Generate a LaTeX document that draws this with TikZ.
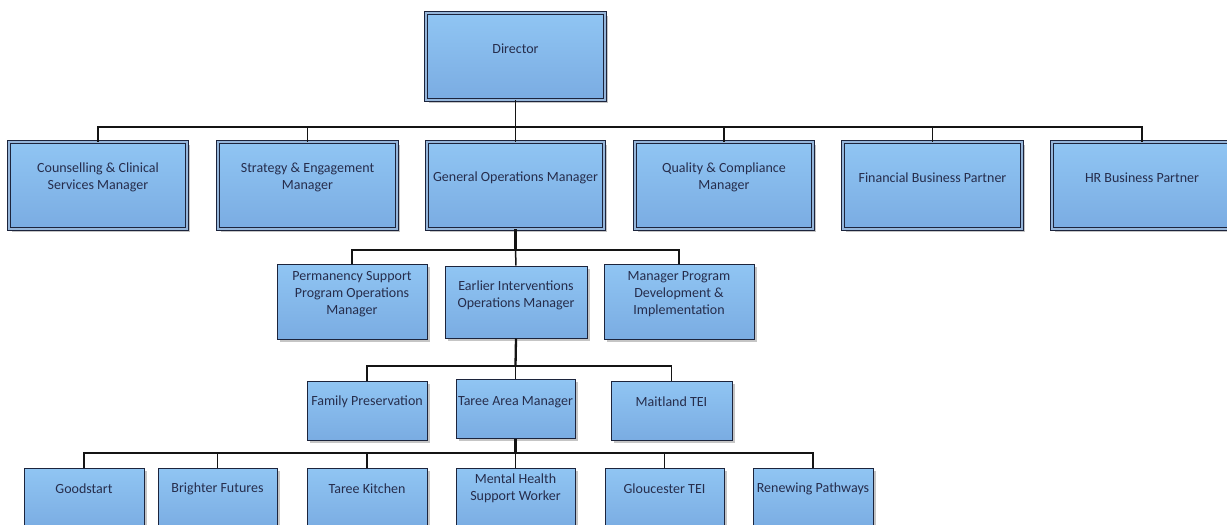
\documentclass[tikz,border=0pt]{standalone}
\usepackage{fontspec}
\setmainfont{Carlito}
\usetikzlibrary{shadows}
\definecolor{boxtop}{RGB}{144,197,243}
\definecolor{boxbot}{RGB}{122,172,226}
\definecolor{boxline}{RGB}{28,36,60}
\definecolor{txtc}{RGB}{38,45,76}
\definecolor{gapc}{RGB}{150,182,218}
\tikzset{
  base/.style={rectangle, draw=boxline, top color=boxtop, bottom color=boxbot, inner sep=0pt,
    drop shadow={shadow xshift=3pt, shadow yshift=-3pt, fill=black!50, opacity=0.45}},
  dbox/.style={base, line width=0.75pt, double=gapc, double distance=1.6pt},
  sbox/.style={base, line width=1pt},
  lbl/.style={font=\fontsize{14}{17}\selectfont, text=txtc, align=center, inner sep=0pt},
  conn/.style={draw=black!92, line width=1.5pt},
  trunk/.style={conn, line width=2.3pt},
}
\begin{document}
\begin{tikzpicture}[x=1pt,y=-1pt]
\useasboundingbox (0,0) rectangle (1227,525);
\clip (0,0) rectangle (1227,525);
\fill[white] (0,0) rectangle (1227,525);

\coordinate (b1) at (515.5,127);
\coordinate (b2) at (515.5,250);
\coordinate (b3) at (515.5,366);
\coordinate (b4) at (515.5,453);

% level 1
\node[dbox, minimum width=179, minimum height=87] (dir) at (515.5,56.5) {};
% level 2
\node[dbox, minimum width=178, minimum height=87] (couns) at (98,185.5) {};
\node[dbox, minimum width=179, minimum height=87] (strat) at (307.5,185.5) {};
\node[dbox, minimum width=177, minimum height=87] (gom) at (515.5,185.5) {};
\node[dbox, minimum width=178, minimum height=87] (qual) at (724,185.5) {};
\node[dbox, minimum width=179, minimum height=87] (fin) at (932.5,185.5) {};
\node[dbox, minimum width=180, minimum height=87] (hr) at (1142,185.5) {};
% level 3
\node[sbox, minimum width=150, minimum height=75] (perm) at (352,301.5) {};
\node[sbox, minimum width=142, minimum height=72] (earl) at (516,302) {};
\node[sbox, minimum width=150, minimum height=75] (mgr) at (679,301.5) {};
% level 4
\node[sbox, minimum width=120, minimum height=59] (fam) at (367,410.5) {};
\node[sbox, minimum width=119, minimum height=59] (taree) at (515.5,408.5) {};
\node[sbox, minimum width=121, minimum height=59] (mait) at (671.5,410.5) {};
% level 5
\node[sbox, minimum width=120, minimum height=62] (good) at (84,499) {};
\node[sbox, minimum width=119, minimum height=62] (bright) at (217.5,499) {};
\node[sbox, minimum width=120, minimum height=62] (kitch) at (367,499) {};
\node[sbox, minimum width=119, minimum height=62] (mental) at (515.5,499) {};
\node[sbox, minimum width=119, minimum height=62] (glouc) at (664.5,499) {};
\node[sbox, minimum width=120, minimum height=62] (renew) at (813,499) {};

% connectors
\draw[conn] (dir.south) -- (b1);
\draw[conn] (couns.north) |- (b1) -| (hr.north);
\foreach \n in {strat,gom,qual,fin} \draw[conn] (\n.north) -- (\n.north |- b1);

\draw[trunk] (gom.south) -- (b2);
\draw[conn] (perm.north) |- (b2) -| (mgr.north);
\draw[conn] (earl.north) -- (b2);

\draw[trunk] (earl.south) -- (b3);
\draw[conn] (fam.north) |- (b3) -| (mait.north);
\draw[conn] (taree.north) -- (b3);

\draw[trunk] (taree.south) -- (b4);
\draw[conn] (good.north) |- (b4) -| (renew.north);
\foreach \n in {bright,kitch,mental,glouc} \draw[conn] (\n.north) -- (\n.north |- b4);

% labels
\node[lbl] (dir-t) at ([yshift=8pt]dir.center) {Director};
\node[lbl] (couns-t) at ([yshift=8pt]couns.center) {Counselling \& Clinical\\Services Manager};
\node[lbl] (strat-t) at ([yshift=8pt]strat.center) {Strategy \& Engagement\\Manager};
\node[lbl] (gom-t) at ([yshift=8pt]gom.center) {General Operations Manager};
\node[lbl] (qual-t) at ([yshift=8pt]qual.center) {Quality \& Compliance\\Manager};
\node[lbl] (fin-t) at ([yshift=8pt]fin.center) {Financial Business Partner};
\node[lbl] (hr-t) at ([yshift=8pt]hr.center) {HR Business Partner};

\node[lbl] (perm-t) at ([yshift=7pt]perm.center) {Permanency Support\\Program Operations\\Manager};
\node[lbl] (earl-t) at ([yshift=7pt]earl.center) {Earlier Interventions\\Operations Manager};
\node[lbl] (mgr-t) at ([yshift=7pt]mgr.center) {Manager Program\\Development \&\\Implementation};

\node[lbl] (fam-t) at ([yshift=8.5pt]fam.center) {Family Preservation};
\node[lbl] (taree-t) at ([yshift=6.5pt]taree.center) {Taree Area Manager};
\node[lbl] (mait-t) at ([yshift=8.5pt]mait.center) {Maitland TEI};

\node[lbl] (good-t) at ([yshift=10pt]good.center) {Goodstart};
\node[lbl] (bright-t) at ([yshift=10pt]bright.center) {Brighter Futures};
\node[lbl] (kitch-t) at ([yshift=10pt]kitch.center) {Taree Kitchen};
\node[lbl] (mental-t) at ([yshift=10.5pt]mental.center) {Mental Health\\Support Worker};
\node[lbl] (glouc-t) at ([yshift=10pt]glouc.center) {Gloucester TEI};
\node[lbl] (renew-t) at ([yshift=10pt]renew.center) {Renewing Pathways};
\end{tikzpicture}
\end{document}
